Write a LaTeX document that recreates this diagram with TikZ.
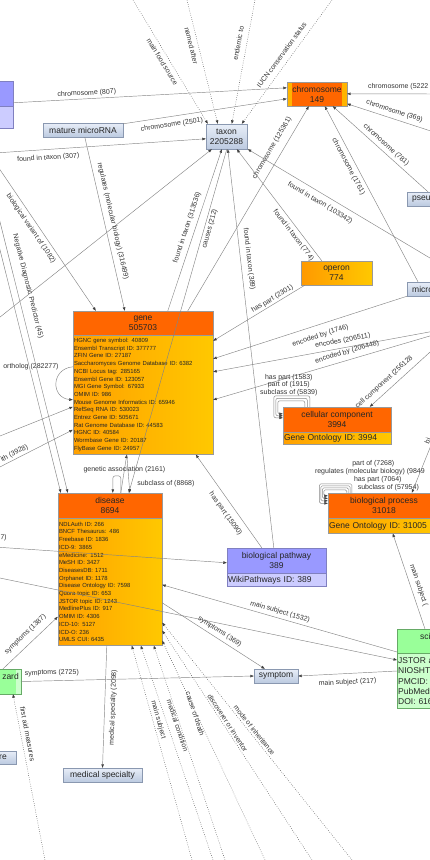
\documentclass[tikz,border=0pt]{standalone}
\usepackage{fontspec}
\setmainfont{Liberation Sans}
\usetikzlibrary{positioning,calc,arrows.meta}

\definecolor{hdrorange}{HTML}{FF6600}
\definecolor{bodyorange}{HTML}{FFA000}
\definecolor{bodyyellow}{HTML}{FFC800}
\definecolor{stripeyellow}{HTML}{FFB400}
\definecolor{operonleft}{HTML}{FF9900}
\definecolor{boxline}{HTML}{999999}
\definecolor{purplehdr}{HTML}{9999FF}
\definecolor{purplebody}{HTML}{CCCCFF}
\definecolor{purpleline}{HTML}{8080C0}
\definecolor{bluetop}{HTML}{E8EEF8}
\definecolor{bluebot}{HTML}{BCCAE0}
\definecolor{blueline}{HTML}{8A98B0}
\definecolor{greenhdr}{HTML}{99FF99}
\definecolor{greenbody}{HTML}{CCFFCC}
\definecolor{greenline}{HTML}{66AA66}
\definecolor{edgegray}{HTML}{858585}
\definecolor{dotgray}{HTML}{505050}
\definecolor{labelgray}{HTML}{333333}

\tikzset{
  >={Triangle[length=3.5pt,width=2.6pt,color=black!75]},
  link/.style={->, draw=edgegray, line width=0.45pt},
  dotlink/.style={->, draw=dotgray, line width=0.5pt, dash pattern=on 0.6pt off 1.6pt},
  elabel/.style={font=\fontsize{7}{7.5}\selectfont, text=labelgray, inner sep=1pt},
  boxtext/.style={font=\fontsize{8.5}{10}\selectfont, text=black!85},
  listtext/.style={font=\fontsize{5.9}{7.7}\selectfont, text=black!85},
  hdr/.style={boxtext, draw=boxline, fill=hdrorange, minimum height=25pt, inner sep=0pt, align=center},
  obody/.style={draw=boxline, left color=bodyorange, right color=bodyyellow, inner xsep=1pt, inner ysep=0pt, align=left},
  phdr/.style={boxtext, draw=purpleline, fill=purplehdr, minimum height=25pt, inner sep=0pt, align=center},
  pbody/.style={boxtext, draw=purpleline, fill=purplebody, inner xsep=1pt, inner ysep=0pt, align=left},
  lbox/.style={boxtext, draw=blueline, top color=bluetop, bottom color=bluebot, minimum height=14pt, inner sep=1pt},
  ghdr/.style={boxtext, draw=greenline, fill=greenhdr, minimum height=24pt, inner sep=0pt},
  gbody/.style={font=\fontsize{8.5}{10.4}\selectfont, text=black!85, draw=greenline, fill=greenbody, inner xsep=1pt, inner ysep=0pt, align=left},
}

\begin{document}
\begin{tikzpicture}[x=1pt,y=-1pt]
\useasboundingbox (0,0) rectangle (430,860);
\clip (0,0) rectangle (430,860);

\node[phdr, minimum width=34pt] (pwlh) at (-4,93.5) {};
\node[pbody, text width=32pt, minimum height=22pt, below=0pt of pwlh] (pwlb) {};
\node[lbox, minimum width=80pt] (mirna) at (83,130) {mature microRNA};
\node[lbox, minimum width=41pt, minimum height=25pt, align=center] (taxon) at (226.5,136.5) {taxon\\2205288};
\node[hdr, minimum width=60pt, minimum height=24pt,
  path picture={\fill[stripeyellow] (path picture bounding box.north west) rectangle ([xshift=4.5pt]path picture bounding box.south west);
                \fill[stripeyellow] ([xshift=-5pt]path picture bounding box.north east) rectangle (path picture bounding box.south east);}]
  (chrom) at (317,94) {chromosome\\149};
\node[lbox, minimum width=50pt, text width=46pt, align=left, anchor=west] (pseu) at (407,199) {\hspace*{3pt}pseu};
\node[lbox, minimum width=50pt, text width=46pt, align=left, anchor=west] (micro) at (407,289) {\hspace*{3pt}micro};
\node[boxtext, draw=boxline, left color=operonleft, right color=bodyyellow, minimum width=71pt, minimum height=24pt, inner sep=0pt, align=center] (operon) at (336.5,273) {operon\\774};

\node[hdr, minimum width=140pt, minimum height=24pt] (geneh) at (143,323) {gene\\505703};
\node[obody, listtext, text width=138pt, minimum height=119pt, below=0pt of geneh] (geneb) {HGNC gene symbol: 40809\\Ensembl Transcript ID: 377777\\ZFIN Gene ID: 27187\\Saccharomyces Genome Database ID: 6382\\NCBI Locus tag: 285165\\Ensembl Gene ID: 123057\\MGI Gene Symbol: 67933\\OMIM ID: 986\\Mouse Genome Informatics ID: 65946\\RefSeq RNA ID: 530023\\Entrez Gene ID: 505671\\Rat Genome Database ID: 44583\\HGNC ID: 40584\\Wormbase Gene ID: 20187\\FlyBase Gene ID: 24957};

\node[hdr, minimum width=108pt] (cellch) at (337,419.5) {cellular component\\3994};
\node[obody, boxtext, text width=106pt, minimum height=12pt, below=0pt of cellch] (cellcb) {Gene Ontology ID: 3994};
\node[hdr, minimum width=112pt] (bproch) at (384,505.5) {biological process\\31018};
\node[obody, boxtext, text width=110pt, minimum height=15pt, below=0pt of bproch] (bprocb) {Gene Ontology ID: 31005};

\node[hdr, minimum width=104pt] (diseaseh) at (110,505.5) {disease\\8694};
\node[obody, listtext, text width=102pt, minimum height=127pt, below=0pt of diseaseh] (diseaseb) {NDLAuth ID: 266\\BNCF Thesaurus: 486\\Freebase ID: 1836\\ICD-9: 3865\\eMedicine: 1512\\MeSH ID: 3427\\DiseasesDB: 1711\\Orphanet ID: 1178\\Disease Ontology ID: 7598\\Quora topic ID: 653\\JSTOR topic ID: 1243\\MedlinePlus ID: 917\\OMIM ID: 4306\\ICD-10: 5127\\ICD-O: 236\\UMLS CUI: 6435};

\node[phdr, minimum width=99pt] (bpathh) at (276.5,560.5) {biological pathway\\389};
\node[pbody, text width=97pt, minimum height=13pt, below=0pt of bpathh] (bpathb) {WikiPathways ID: 389};
\node[lbox, minimum width=44pt] (symptom) at (276,676) {symptom};
\node[ghdr, minimum width=104pt, text width=100pt, align=left, anchor=north west] (scih) at (397,629) {\hspace*{21pt}sci\\\mbox{}};
\node[gbody, text width=102pt, minimum height=55pt, below=0pt of scih] (scib) {JSTOR a\\NIOSHT\\PMCID:\\PubMed\\DOI: 616};
\node[ghdr, minimum width=60pt, minimum height=25pt, text width=56pt, align=right, anchor=east,
  path picture={\fill[greenbody] ([xshift=-5pt]path picture bounding box.north east) rectangle (path picture bounding box.south east);}]
  (zard) at (21,681.5) {zard\hspace*{4pt}\\\mbox{}};
\node[lbox, minimum width=46pt, minimum height=13pt, text width=42pt, align=right, anchor=east] (retail) at (16,757.5) {re\hspace*{7pt}};
\node[lbox, minimum width=79pt] (medspec) at (102.5,775) {medical specialty};

\coordinate (tq1) at (133,0);
\coordinate (tq2) at (187,0);
\coordinate (tq3) at (255,0);
\coordinate (tq4) at (332,0);
\coordinate (lt307) at (-5,153);
\coordinate (lvar) at (-10,155);
\coordinate (lneg1) at (-40,90);
\coordinate (lneg2) at (-33,90);
\coordinate (ltx) at (-10,325);
\coordinate (lga) at (-10,440);
\coordinate (lgb) at (-10,472);
\coordinate (l7c) at (-5,547);
\coordinate (le) at (-5,577);
\coordinate (rc5222) at (440,94);
\coordinate (rc369) at (440,134);
\coordinate (rc103342) at (440,264);
\coordinate (renc1) at (440,330);
\coordinate (renc2) at (440,333);
\coordinate (rcell) at (440,343);
\coordinate (rbp) at (436,433);
\coordinate (bfa) at (45,860);
\coordinate (bd1) at (192,860);
\coordinate (bd2) at (213,860);
\coordinate (bd3) at (225,860);
\coordinate (bd4) at (312,860);
\coordinate (bd5) at (265,860);
\coordinate (bd6) at (352,860);

\draw[dotlink] (tq1) -- ($(taxon.north west)+(2,0)$) node[elabel, pos=0.47, sloped, below=3pt] (lfood) {main food source};
\draw[dotlink] (tq2) -- ($(taxon.north west)+(12,0)$) node[elabel, pos=0.355, sloped, below=3pt] (lnamed) {named after};
\draw[dotlink] (tq3) -- ($(taxon.north west)+(26,0)$) node[elabel, pos=0.363, sloped, above=4.5pt] (lendem) {endemic to};
\draw[dotlink] (tq4) -- ($(taxon.north west)+(36,0)$) node[elabel, pos=0.484, sloped, above=4.5pt] (liucn) {IUCN conservation status};

\draw[link] ($(pwlh.north east)+(0,22)$) -- ($(chrom.north west)+(0,6)$) node[elabel, pos=0.27, sloped, above=1pt] (l807) {chromosome (807)};
\draw[link] ($(mirna.north east)+(0,1)$) -- ($(chrom.north west)+(0,17)$) node[elabel, pos=0.29, sloped, below=4pt] (l2501) {chromosome (2501)};
\draw[link] (rc5222) -- ($(chrom.north east)+(0,12)$) node[elabel, pos=0.45, above=2.5pt] (l5222) {chromosome (5222};
\draw[link] (rc369) -- ($(chrom.north east)+(0,22)$) node[elabel, pos=0.516, sloped, above=3pt] (l369) {chromosome (369)};
\draw[link] ($(geneh.north west)+(115,0)$) -- ($(chrom.south west)+(22,0)$) node[elabel, pos=0.77, sloped, above=6pt] (l125361) {chromosome (125361)};
\draw[link] ($(micro.north west)+(11,0)$) -- ($(chrom.south west)+(38,0)$) node[elabel, pos=0.676, sloped, below=3pt] (l1761) {chromosome (1761)};
\draw[link] ($(pseu.north west)+(21,0)$) -- ($(chrom.south west)+(46,0)$) node[elabel, pos=0.488, sloped, above=2.3pt] (l781) {chromosome (781)};

\draw[link] (lt307) -- ($(taxon.north west)+(0,15)$) node[elabel, pos=0.25, sloped, below=4pt] (l307) {found in taxon (307)};
\draw[link] (ltx) -- ($(taxon.south west)+(6,0)$);
\draw[link] ($(geneh.north west)+(95,0)$) -- ($(taxon.south west)+(16,0)$) node[elabel, pos=0.5, sloped, above=3.5pt] (l313536) {found in taxon (313536)};
\draw[link] ($(taxon.south west)+(21,0)$) -- ($(diseaseh.north west)+(71,0)$) node[elabel, pos=0.227, sloped, below=1pt] (l212) {causes (212)};
\draw[link] ($(bpathh.north west)+(47,0)$) -- ($(taxon.south west)+(22,0)$) node[elabel, pos=0.722, sloped, above=4pt] (l389) {found in taxon (389)};
\draw[link] ($(operon.north west)+(21,0)$) -- ($(taxon.south west)+(31,0)$) node[elabel, pos=0.268, sloped, below=2.5pt] (l774) {found in taxon (774)};
\draw[link] (rc103342) -- ($(taxon.south west)+(42,0)$) node[elabel, pos=0.6, sloped, below=4.5pt] (l103342) {found in taxon (103342)};

\draw[link] ($(mirna.south west)+(42,0)$) -- ($(geneh.north west)+(52,0)$) node[elabel, pos=0.494, sloped, above=4pt] (l316499) {regulates (molecular biology) (316499)};
\draw[link] (lvar) -- ($(geneh.north west)+(23,0)$) node[elabel, pos=0.445, sloped, below=3pt] (l1082) {biological variant of (1082)};
\draw[link] ($(operon.south west)+(4,0)$) -- ($(geneh.north east)+(0,30)$) node[elabel, pos=0.326, sloped, above=0.5pt] (l2301) {has part (2301)};
\draw[link] (micro.south west) -- ($(geneh.north east)+(0,48)$) node[elabel, pos=0.464, sloped, below=6.5pt] (l1746) {encoded by (1746)};
\draw[link] (renc1) -- ($(geneh.north east)+(0,61)$) node[elabel, pos=0.423, sloped, above=2.5pt] (l206511) {encodes (206511)};
\draw[link] (renc2) -- ($(geneh.north east)+(0,89)$) node[elabel, pos=0.4, sloped, above=3.5pt] (l206448) {encoded by (206448)};
\draw[link] ($(geneh.north west)+(0,56)$) .. controls +(-22,2) and +(-22,-2) .. ($(geneh.north west)+(0,89)$) node[elabel, at start, left=13pt] (lortho) {ortholog (282277)};
\draw[link] (lga) -- ($(geneh.north west)+(0,96)$);
\draw[link] (lgb) -- ($(geneh.north west)+(0,119)$) node[elabel, pos=0.325, sloped, above=1pt] (l3928) {ith (3928)};

\draw[link] ($(diseaseh.north west)+(63,0)$) -- ($(geneb.south west)+(54,0)$) node[elabel, pos=0.6] (lgenassoc) {genetic association (2161)};
\draw[link] ($(geneb.south west)+(54,0)$) -- ($(diseaseh.north west)+(72,0)$) node[elabel, pos=0.75, right=7pt] (l8868) {subclass of (8868)};
\draw[link, rounded corners=2.5pt] ($(diseaseh.north west)+(63,0)$) -- ++(0,-17) -- ++(-8,0) -- ++(0,17);

\draw[link] (lneg1) -- ($(diseaseh.north west)+(3,0)$);
\draw[link] (lneg2) -- ($(diseaseh.north west)+(10,0)$) node[elabel, pos=0.494, sloped, above=7pt] (l45) {Negative Diagnostic Predictor (45)};
\draw[link] ($(scih.north west)+(0,23)$) -- ($(diseaseh.north east)+(0,92)$) node[elabel, pos=0.506, sloped, above=2pt] (l1532) {main subject (1532)};
\draw[link] (le) -- ($(scih.north west)+(0,31)$);
\draw[link] ($(diseaseh.north east)+(0,110)$) -- ($(symptom.north west)+(11,0)$) node[elabel, pos=0.524, sloped, above=2.5pt] (l369s) {symptoms (369)};
\draw[link] ($(zard.north east)+(-18,0)$) -- ($(diseaseh.north west)+(0,124)$) node[elabel, pos=0.527, sloped, above=5pt] (l1387) {symptoms (1387)};
\draw[link] ($(diseaseb.south west)+(49,0)$) -- (medspec.north) node[elabel, pos=0.504, sloped, below=4pt] (l2098) {medical specialty (2098)};

\draw[link] ($(scih.north west)+(0,42)$) -- (symptom.east) node[elabel, pos=0.505, sloped, below=4.5pt] (l217) {main subject (217)};
\draw[link] (zard.east) -- (symptom.west) node[elabel, pos=0.133, sloped, above=3.5pt] (l2725) {symptoms (2725)};

\draw[link] ($(bpathh.north west)+(35,0)$) -- ($(geneb.south west)+(123,0)$) node[elabel, pos=0.426, sloped, below=5.5pt] (l15090) {has part (15090)};
\draw[link] (l7c) -- ($(bpathh.north west)+(0,15)$) node[elabel, pos=0.034, sloped, above=5.5pt] (l7) {7)};

\foreach \i in {0,1,2}
  \draw[link, rounded corners=2pt] ($(cellch.north west)+(22+2.5*\i,0)$) -- ++(0,-6-2.5*\i) -- ($(cellch.north west)+(-5-2*\i,-6-2.5*\i)$) -- ($(cellch.north west)+(-5-2*\i,7+2*\i)$) -- ($(cellch.north west)+(0,7+2*\i)$);
\node[elabel, align=center] (lcellloop) at ($(cellch.north west)+(6,-22)$) {has part (1583)\\part of (1915)\\subclass of (5839)};
\draw[link] (rcell) -- ($(cellch.north west)+(87,0)$) node[elabel, pos=0.714, sloped, above=4pt] (l256128) {cell component (256128};

\foreach \i in {0,1,2,3}
  \draw[link, rounded corners=1.5pt] ($(bproch.north west)+(19+1.7*\i,0)$) -- ++(0,-3-2*\i) -- ($(bproch.north west)+(-4-1.5*\i,-3-2*\i)$) -- ($(bproch.north west)+(-4-1.5*\i,3+2.5*\i)$) -- ($(bproch.north west)+(0,3+2.5*\i)$);
\node[elabel] (lbp1) at ($(bproch.north west)+(45.5,-29)$) {part of (7268)};
\node[elabel, anchor=west] (lbp2) at ($(bproch.north west)+(-14,-21)$) {regulates (molecular biology) (9849};
\node[elabel] (lbp3) at ($(bproch.north west)+(50,-13)$) {has part (7064)};
\node[elabel] (lbp4) at ($(bproch.north west)+(60.5,-5)$) {subclass of (57954)};
\draw[link] (rbp) -- ($(bproch.north west)+(84,0)$) node[elabel, pos=0.16, sloped, above=1pt] (lbi) {bi};
\draw[link] ($(scih.north west)+(28,0)$) -- ($(bprocb.south west)+(65,0)$) node[elabel, pos=0.432, sloped, above=3.5pt] (lmsbp) {main subject (};

\draw[dotlink] (bfa) -- ($(zard.south east)+(-8,0)$) node[elabel, pos=0.753, sloped, above=3pt] (lfirst) {first aid measures};
\draw[dotlink] (bd1) -- ($(diseaseb.south west)+(74,0)$) node[elabel, pos=0.647, sloped, above=1pt] (lms) {main subject};
\draw[dotlink] (bd2) -- ($(diseaseb.south west)+(83,0)$) node[elabel, pos=0.614, sloped, above=5.5pt] (lmc) {medical condition};
\draw[dotlink] (bd3) -- ($(diseaseb.south west)+(96,0)$) node[elabel, pos=0.656, sloped, above=14pt] (lcod) {cause of death};
\draw[dotlink] (bd4) -- ($(diseaseb.south east)+(0,-15)$) node[elabel, pos=0.587, sloped, above=0.5pt] (ldisc) {discoverer or inventor};
\draw[dotlink] (bd5) -- ($(diseaseb.south east)+(0,-5)$);
\draw[dotlink] (bd6) -- ($(diseaseb.south east)+(0,-23)$) node[elabel, pos=0.534, sloped, above=1pt] (lmoi) {mode of inheritance};
\end{tikzpicture}
\end{document}
